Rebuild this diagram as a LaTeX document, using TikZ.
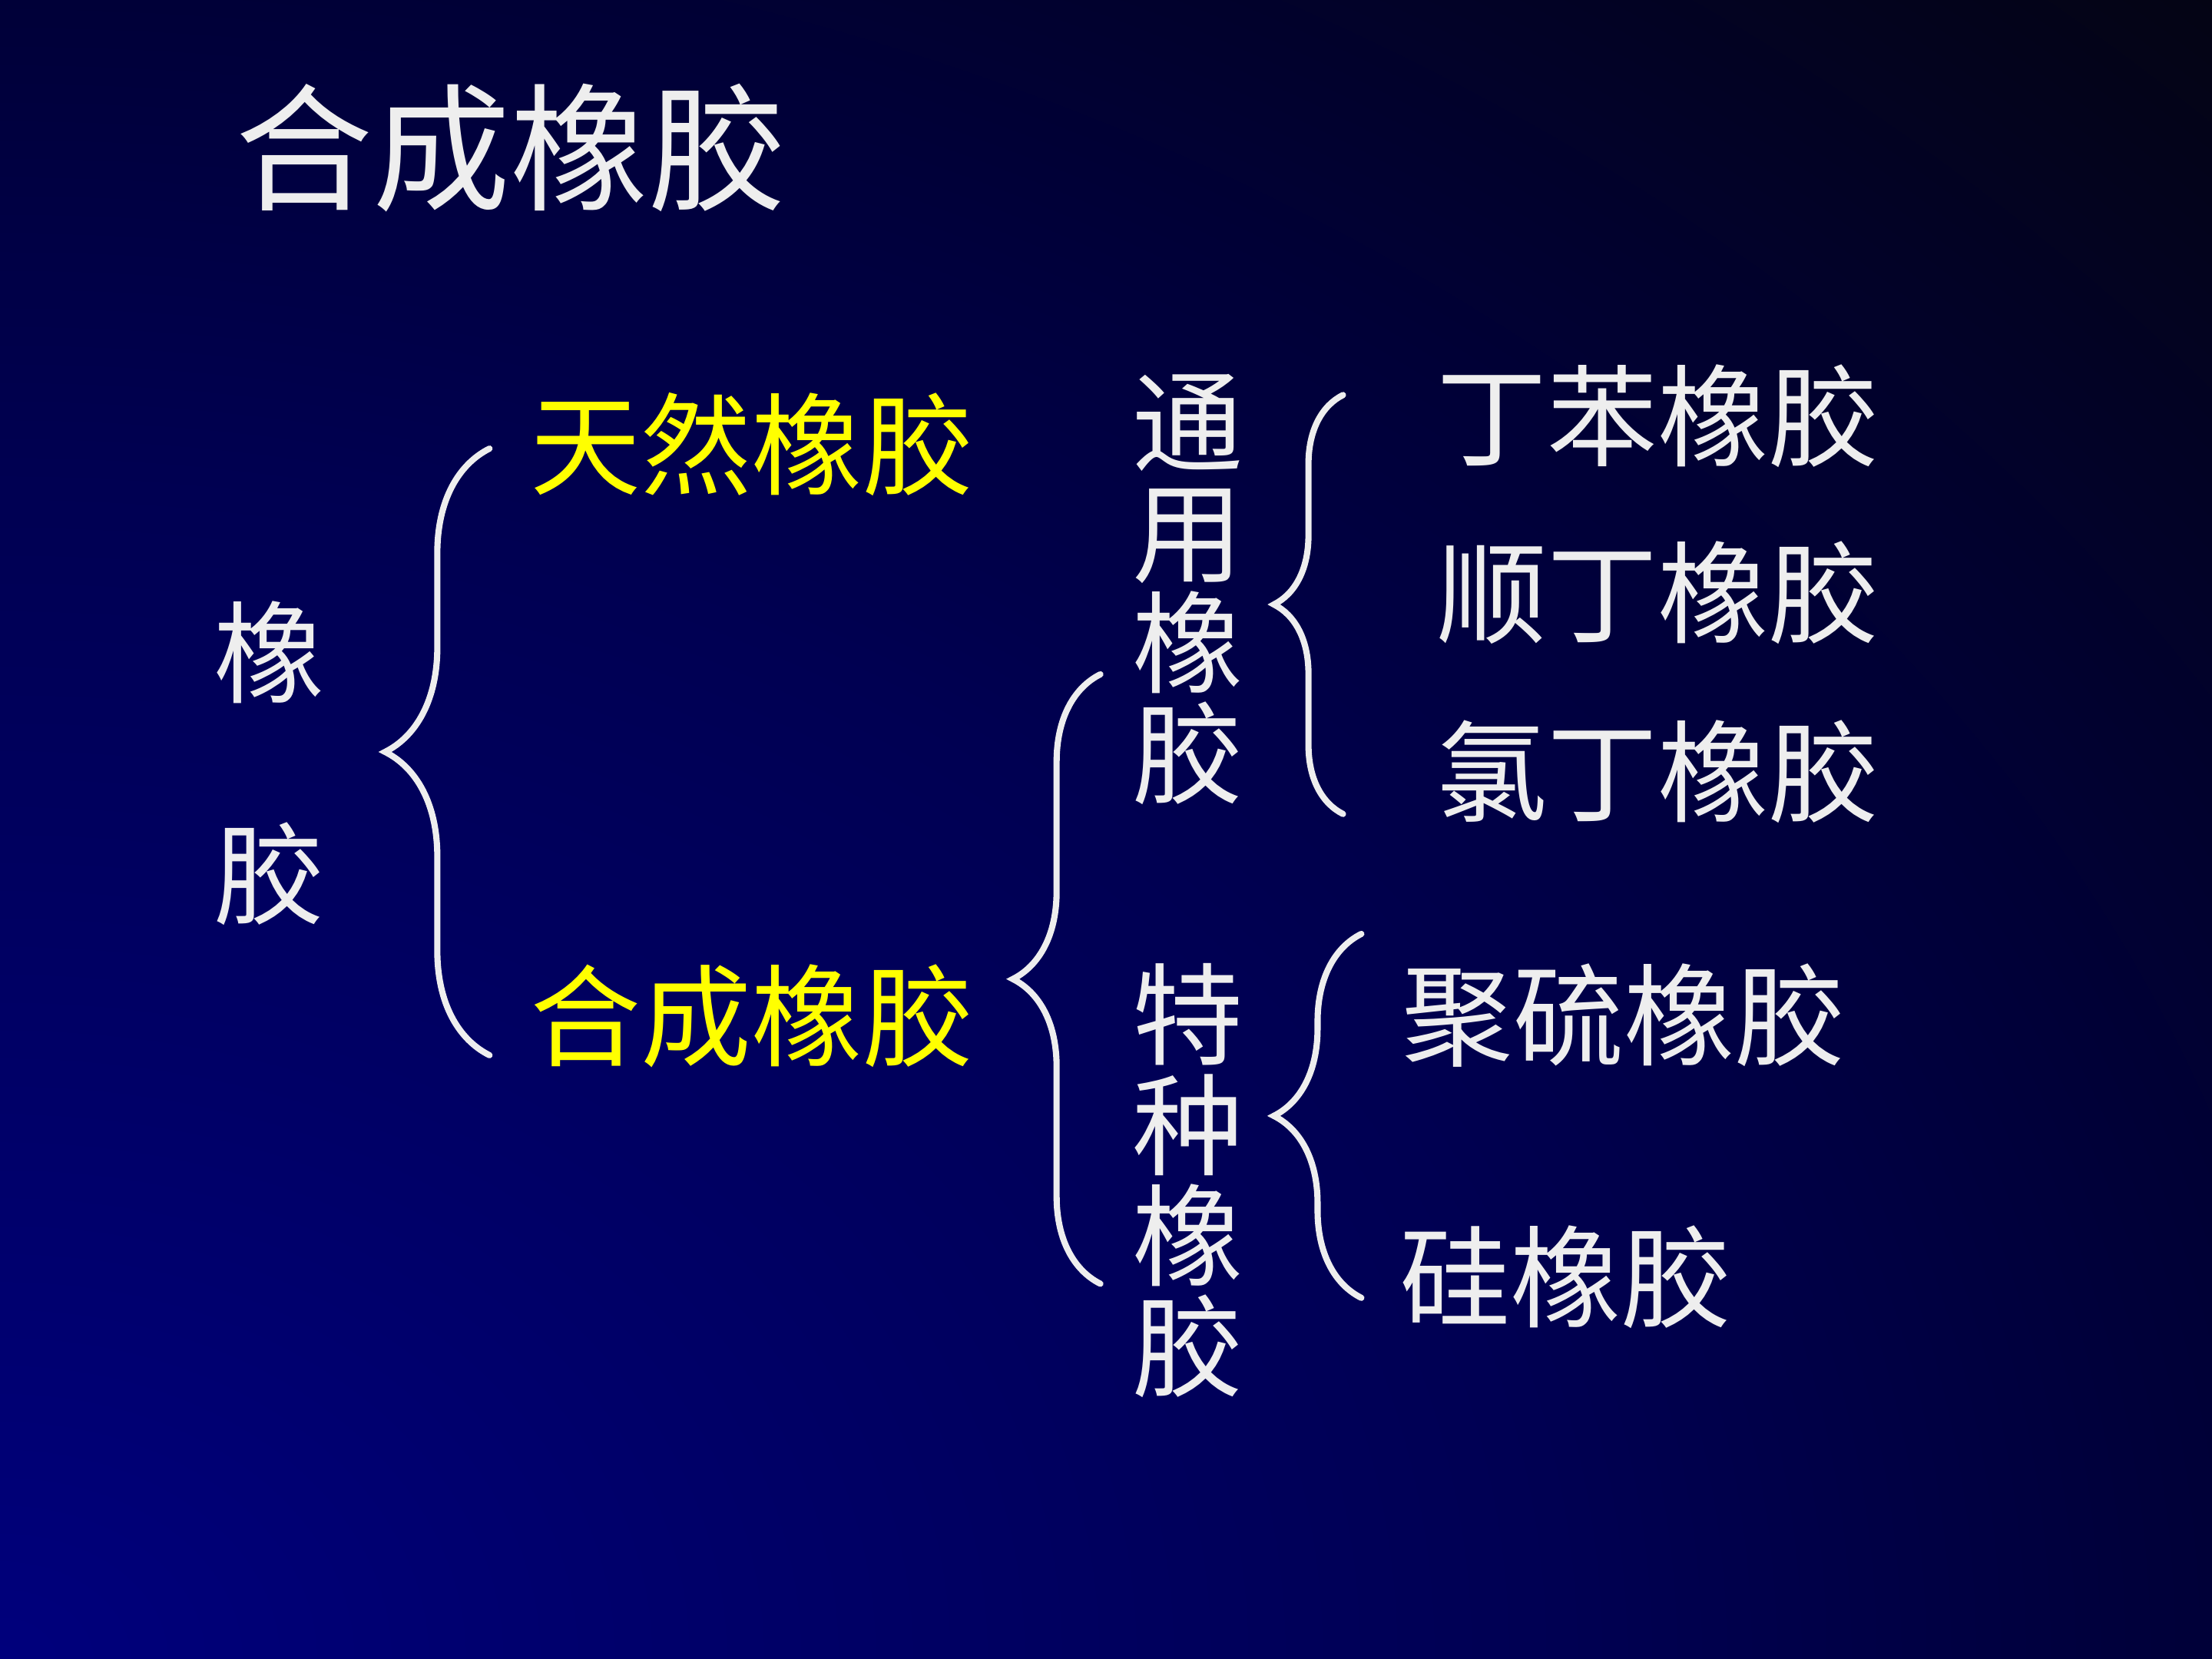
\documentclass[tikz,border=0pt]{standalone}
\usepackage{fontspec}
\newfontfamily\cjk{Noto Sans CJK SC}
\usetikzlibrary{decorations.pathreplacing}

\definecolor{bgNear}{HTML}{00007C}
\definecolor{bgMid}{HTML}{000052}
\definecolor{bgCtr}{HTML}{000038}
\definecolor{bgFar}{HTML}{040414}
\definecolor{txtW}{HTML}{EEEEEE}
\definecolor{hiY}{HTML}{FFFF00}

\pgfdeclareradialshading{slidebg}{\pgfpoint{0bp}{0bp}}{%
  color(0bp)=(bgNear); color(8.84bp)=(bgMid); color(12.5bp)=(bgCtr);
  color(17.68bp)=(bgFar); color(24.75bp)=(black); color(50bp)=(black)}

\begin{document}
\begin{tikzpicture}[x=0.018367cm, y=-0.018367cm,
    lbl/.style={text=txtW, inner sep=0pt, font=\cjk\fontsize{41}{41}\selectfont},
    hilbl/.style={lbl, text=hiY},
    stack/.style={lbl, align=center},
    curly/.style={draw=txtW, line width=2.3pt, line cap=round,
      decorate, decoration={brace, amplitude=#1}}]
    % background
    \begin{scope}
      \clip (0,0) rectangle (1568,1176);
      \shade[shading=slidebg] (-3136,-1176) rectangle (3136,3528);
    \end{scope}
    \useasboundingbox (0,0) rectangle (1568,1176);

    % title
    \node[lbl, font=\cjk\fontsize{51}{51}\selectfont] (title) at (362,105) {合成橡胶};

    % first level
    \node[stack, font=\cjk\fontsize{41}{82}\selectfont] (rubber) at (191,541) {橡\\胶};
    \node[hilbl] (natural) at (533,315) {天然橡胶};
    \node[hilbl] (synth) at (533,720) {合成橡胶};

    % second level
    \node[stack] (general) at (842,418) {通\\用\\橡\\胶};
    \node[stack] (special) at (842,837) {特\\种\\橡\\胶};

    % kinds
    \node[lbl] (sbr) at (1175,295) {丁苯橡胶};
    \node[lbl] (br) at (1175,420) {顺丁橡胶};
    \node[lbl] (cr) at (1175,547) {氯丁橡胶};
    \node[lbl] (tr) at (1151,720) {聚硫橡胶};
    \node[lbl] (si) at (1110,905) {硅橡胶};

    % braces
    \coordinate (b1top) at (347,318);
    \coordinate (b1bot) at (347,748);
    \coordinate (b2top) at (780,478);
    \coordinate (b2bot) at (780,910);
    \coordinate (b3top) at (952,280);
    \coordinate (b3bot) at (952,577);
    \coordinate (b4top) at (965,662);
    \coordinate (b4bot) at (965,920);
    \draw[curly=1.36cm] (b1bot) -- (b1top);
    \draw[curly=1.14cm] (b2bot) -- (b2top);
    \draw[curly=0.9cm] (b3bot) -- (b3top);
    \draw[curly=1.14cm] (b4bot) -- (b4top);
  \end{tikzpicture}
\end{document}
